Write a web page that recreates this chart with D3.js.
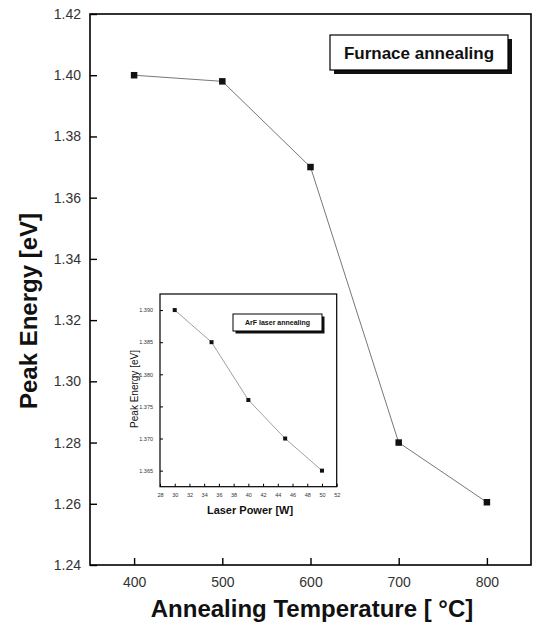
<!DOCTYPE html>
<html>
<head>
<meta charset="utf-8">
<script src="https://cdn.jsdelivr.net/npm/d3@7"></script>
<style>
  body { margin: 0; background: #fff; }
  svg { display: block; font-family: "Liberation Sans", Arial, sans-serif; }
</style>
</head>
<body>
<div id="mainDiv"></div>
<script>
'use strict';

// furnace annealing (main plot)
var annealTemp  = [400, 500, 600, 700, 800];
var peakFurnace = [1.400, 1.398, 1.370, 1.280, 1.2605];

// ArF laser annealing (inset)
var laserPower = [30, 35, 40, 45, 50];
var peakLaser  = [1.390, 1.385, 1.376, 1.370, 1.365];

// tick values
var mainXTicks  = [400, 500, 600, 700, 800];
var mainYTicks  = [1.24, 1.26, 1.28, 1.30, 1.32, 1.34, 1.36, 1.38, 1.40, 1.42];
var insetXTicks = [28, 30, 32, 34, 36, 38, 40, 42, 44, 46, 48, 50, 52];
var insetYTicks = [1.365, 1.370, 1.375, 1.380, 1.385, 1.390];

var myApp = {};

myApp.appendSvg = function(div) {
    return d3.select(div).append('svg')
        .attr('width', 538)
        .attr('height', 626);
}

// draws frame + inward ticks, like the Origin style of the scan
myApp.drawPanel = function(svg, p) {
    var x = d3.scaleLinear().domain(p.xDomain).range([p.left, p.right]);
    var y = d3.scaleLinear().domain(p.yDomain).range([p.bottom, p.top]);

    svg.append('rect')
        .attr('x', p.left).attr('y', p.top)
        .attr('width', p.right - p.left).attr('height', p.bottom - p.top)
        .attr('fill', '#fff').attr('stroke', '#000').attr('stroke-width', p.frameW);

    var gx = svg.append('g').attr('transform', 'translate(0,' + p.bottom + ')');
    gx.call(d3.axisBottom(x).tickValues(p.xMinor).tickSize(-p.minorLen).tickFormat(''));
    gx.call(d3.axisBottom(x).tickValues(p.xTicks).tickSize(-p.majorLen).tickPadding(p.majorLen + p.xPad).tickFormat(p.xFmt));

    var gy = svg.append('g').attr('transform', 'translate(' + p.left + ',0)');
    gy.call(d3.axisLeft(y).tickValues(p.yMinor).tickSize(-p.minorLen).tickFormat(''));
    gy.call(d3.axisLeft(y).tickValues(p.yTicks).tickSize(-p.majorLen).tickPadding(p.majorLen + p.yPad).tickFormat(p.yFmt));

    [gx, gy].forEach(function(g) {
        g.selectAll('.domain').remove();
        g.selectAll('line').attr('stroke', '#000').attr('stroke-width', p.tickW);
        g.selectAll('text')
            .attr('font-family', '"Liberation Sans", Arial, sans-serif')
            .attr('font-size', p.tickFont)
            .attr('fill', '#333');
    });

    return { x: x, y: y };
}

myApp.drawSeries = function(svg, sc, xs, ys, size, lineW) {
    var pts = xs.map(function(d, i) { return [d, ys[i]]; });
    var line = d3.line()
        .x(function(d) { return sc.x(d[0]); })
        .y(function(d) { return sc.y(d[1]); });

    svg.append('path')
        .attr('d', line(pts))
        .attr('fill', 'none')
        .attr('stroke', '#777')
        .attr('stroke-width', lineW);

    svg.selectAll(null)
        .data(pts)
        .enter()
        .append('rect')
        .attr('x', function(d) { return sc.x(d[0]) - size / 2; })
        .attr('y', function(d) { return sc.y(d[1]) - size / 2; })
        .attr('width', size).attr('height', size)
        .attr('fill', '#111');
}

myApp.legendBox = function(svg, b) {
    svg.append('rect')
        .attr('x', b.x + b.shadow).attr('y', b.y + b.shadow)
        .attr('width', b.w).attr('height', b.h)
        .attr('fill', '#111');
    svg.append('rect')
        .attr('x', b.x).attr('y', b.y)
        .attr('width', b.w).attr('height', b.h)
        .attr('fill', '#fff').attr('stroke', '#000').attr('stroke-width', b.stroke);
    svg.append('text')
        .attr('x', b.x + b.w / 2).attr('y', b.y + b.h / 2)
        .attr('dy', '0.36em')
        .attr('text-anchor', 'middle')
        .attr('font-size', b.font)
        .attr('font-weight', 'bold')
        .attr('fill', '#111')
        .text(b.label);
}

myApp.run = function() {
    var svg = myApp.appendSvg('#mainDiv');

    // main plot
    var main = myApp.drawPanel(svg, {
        left: 90, right: 531, top: 14, bottom: 565,
        xDomain: [350, 850], yDomain: [1.24, 1.42],
        xTicks: mainXTicks, yTicks: mainYTicks,
        xMinor: [450, 550, 650, 750], yMinor: d3.range(1.25, 1.42, 0.02),
        xFmt: d3.format('d'), yFmt: d3.format('.2f'),
        majorLen: 7, minorLen: 4, xPad: 5, yPad: 2,
        tickFont: 14, frameW: 1.6, tickW: 1.4
    });
    myApp.drawSeries(svg, main, annealTemp, peakFurnace, 6.5, 1);

    myApp.legendBox(svg, {
        x: 330, y: 35, w: 178, h: 35, shadow: 4, stroke: 1.2,
        font: 17, label: 'Furnace annealing'
    });

    svg.append('text')
        .attr('x', 312).attr('y', 617)
        .attr('text-anchor', 'middle')
        .attr('font-size', 24).attr('font-weight', 'bold')
        .attr('fill', '#111')
        .text('Annealing Temperature [ \u00b0C]');

    svg.append('text')
        .attr('transform', 'translate(37,311) rotate(-90)')
        .attr('text-anchor', 'middle')
        .attr('font-size', 24).attr('font-weight', 'bold')
        .attr('fill', '#111')
        .text('Peak Energy [eV]');

    // inset
    var inset = myApp.drawPanel(svg, {
        left: 160, right: 336.7, top: 294, bottom: 486.7,
        xDomain: [28, 52], yDomain: [1.3625, 1.3925],
        xTicks: insetXTicks, yTicks: insetYTicks,
        xMinor: d3.range(29, 52, 2), yMinor: d3.range(1.3625, 1.3925, 0.005),
        xFmt: d3.format('d'), yFmt: d3.format('.3f'),
        majorLen: 3, minorLen: 2, xPad: 3, yPad: 4,
        tickFont: 5.5, frameW: 1.2, tickW: 1
    });
    myApp.drawSeries(svg, inset, laserPower, peakLaser, 4, 0.7);

    myApp.legendBox(svg, {
        x: 233, y: 314, w: 89, h: 17, shadow: 2.5, stroke: 1,
        font: 7, label: 'ArF laser annealing'
    });

    svg.append('text')
        .attr('x', 250).attr('y', 514)
        .attr('text-anchor', 'middle')
        .attr('font-size', 11).attr('font-weight', 'bold')
        .attr('fill', '#111')
        .text('Laser Power [W]');

    svg.append('text')
        .attr('transform', 'translate(138,389) rotate(-90)')
        .attr('text-anchor', 'middle')
        .attr('font-size', 10)
        .attr('fill', '#111')
        .text('Peak Energy [eV]');
}

window.onload = function() {
    myApp.run();
};
</script>
</body>
</html>
